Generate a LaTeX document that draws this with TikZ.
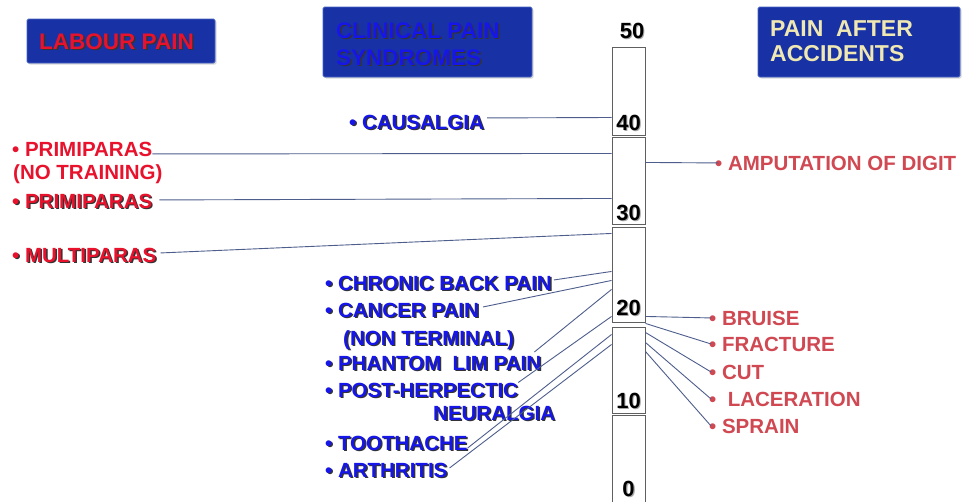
\documentclass[tikz,border=0pt]{standalone}
\usepackage{fontspec}
\setmainfont{Liberation Sans}
\usetikzlibrary{shadows}
\definecolor{hdrblue}{RGB}{24,50,165}
\definecolor{hdredge}{RGB}{70,100,195}
\definecolor{labred}{RGB}{232,18,45}
\definecolor{clinblue}{RGB}{22,22,232}
\definecolor{accred}{RGB}{208,72,82}
\definecolor{cream}{RGB}{240,232,178}
\definecolor{connc}{RGB}{78,94,140}
\definecolor{scalec}{RGB}{95,95,95}
\newcommand\shd[2]{\rlap{\kern1.4pt\smash{\raisebox{-1.4pt}{\color{black!80}#2}}}{\color{#1}#2}}
\newcommand\nsh[1]{\rlap{\kern1.2pt\smash{\raisebox{-1.2pt}{\color{black!35}#1}}}{\color{black}#1}}
\begin{document}
\begin{tikzpicture}[x=1pt,y=-1pt,
  lbl/.style={inner sep=0pt, anchor=base west, font=\fontsize{20.5}{24}\selectfont\bfseries},
  hlbl/.style={inner sep=0pt, anchor=base west, font=\fontsize{22.5}{26}\selectfont\bfseries},
  hdrbox/.style={draw=hdredge, line width=0.8pt, fill=hdrblue, rounded corners=1.5pt, inner sep=0pt,
     drop shadow={opacity=0.3, shadow xshift=1.5pt, shadow yshift=-1.5pt}},
  scalebox/.style={draw=scalec, line width=1pt, fill=white, inner sep=0pt, minimum width=33pt},
  num/.style={inner sep=0pt, anchor=base, font=\fontsize{22}{24}\selectfont\bfseries},
  conn/.style={draw=connc, line width=0.9pt}]
\useasboundingbox (0,0) rectangle (964,501);
\fill[white] (0,0) rectangle (964,501);
% header boxes
\node[hdrbox, minimum width=188pt, minimum height=44pt] (hlab) at (121,41) {};
\node[hdrbox, minimum width=209pt, minimum height=70pt] (hcli) at (427.5,42) {};
\node[hdrbox, minimum width=202pt, minimum height=70pt] (hacc) at (859,42) {};
\node[hlbl] (tlab) at (39,49) {\shd{labred}{LABOUR PAIN}};
\node[hlbl] (tcl1) at (336,38) {\shd{clinblue}{CLINICAL PAIN}};
\node[hlbl] (tcl2) at (336,65) {\shd{clinblue}{SYNDROMES}};
\node[hlbl, font=\fontsize{23}{26}\selectfont\bfseries] (tac1) at (770,36) {\color{cream}PAIN\ \ AFTER};
\node[hlbl, font=\fontsize{23}{26}\selectfont\bfseries] (tac2) at (770,61) {\color{cream}ACCIDENTS};
% scale
\node[scalebox, minimum height=88pt] (s40) at (628.5,91.5) {};
\node[scalebox, minimum height=87.3pt] (s30) at (628.5,181.3) {};
\node[scalebox, minimum height=95.3pt] (s20) at (628.5,275.3) {};
\node[scalebox, minimum height=86pt] (s10) at (628.5,370) {};
\node[scalebox, minimum height=94.3pt] (s0) at (628.5,462.8) {};
\node[num] (n50) at (632,38.3) {\nsh{50}};
\node[num] (n40) at (628.5,130) {\nsh{40}};
\node[num] (n30) at (628.5,220) {\nsh{30}};
\node[num] (n20) at (628.5,315) {\nsh{20}};
\node[num] (n10) at (628.5,408) {\nsh{10}};
\node[num] (n0) at (628.5,496.5) {\nsh{0}};
% labour pain
\node[lbl] (p1) at (12,156) {\color{labred}• PRIMIPARAS};
\node[lbl] (p1b) at (13,179) {\color{labred}(NO TRAINING)};
\node[lbl] (p2) at (12,208) {\shd{labred}{• PRIMIPARAS}};
\node[lbl] (mu) at (12,262) {\shd{labred}{• MULTIPARAS}};
% clinical
\node[lbl] (ca) at (349,129) {\shd{clinblue}{• CAUSALGIA}};
\node[lbl] (cb) at (325,290) {\shd{clinblue}{• CHRONIC BACK PAIN}};
\node[lbl] (cp) at (325,317) {\shd{clinblue}{• CANCER PAIN}};
\node[lbl] (cpn) at (343,345) {\shd{clinblue}{(NON TERMINAL)}};
\node[lbl] (pl) at (325,370) {\shd{clinblue}{• PHANTOM\ \ LIM PAIN}};
\node[lbl] (ph) at (325,397) {\shd{clinblue}{• POST-HERPECTIC}};
\node[lbl] (ne) at (433,420) {\shd{clinblue}{NEURALGIA}};
\node[lbl] (to) at (325,450) {\shd{clinblue}{• TOOTHACHE}};
\node[lbl] (ar) at (325,477) {\shd{clinblue}{• ARTHRITIS}};
% accidents
\node[lbl] (am) at (715,170) {\color{accred}• AMPUTATION OF DIGIT};
\node[lbl] (br) at (709,325) {\color{accred}• BRUISE};
\node[lbl] (fr) at (709,351) {\color{accred}• FRACTURE};
\node[lbl] (cu) at (709,379) {\color{accred}• CUT};
\node[lbl] (la) at (709,406) {\color{accred}•\ \ LACERATION};
\node[lbl] (sp) at (709,433) {\color{accred}• SPRAIN};
% connectors
\draw[conn] ([xshift=3pt,yshift=4pt]ca.east) -- ([yshift=-70.5pt]s40.north west);
\draw[conn] ([yshift=-5pt]p1.east) -- ([yshift=-16.3pt]s30.north west);
\draw[conn] ([xshift=7pt,yshift=1pt]p2.east) -- ([yshift=-61.3pt]s30.north west);
\draw[conn] ([xshift=4pt,yshift=2pt]mu.east) -- ([yshift=-6.3pt]s20.north west);
\draw[conn] ([xshift=2pt,yshift=3pt]cb.east) -- ([yshift=-44.3pt]s20.north west);
\draw[conn] ([xshift=4pt,yshift=3pt]cp.east) -- ([yshift=-53.3pt]s20.north west);
\draw[conn] ([xshift=-7pt,yshift=3.5pt]pl.north east) -- ([yshift=-62.3pt]s20.north west);
\draw[conn] (ph.north east) -- ([yshift=-89.3pt]s20.north west);
\draw[conn] ([yshift=-5pt]to.east) -- ([yshift=-8pt]s10.north west);
\draw[conn] ([xshift=2pt,yshift=2pt]ar.east) -- ([yshift=-18pt]s10.north west);
\draw[conn] ([yshift=-25.3pt]s30.north east) -- ([xshift=3pt]am.west);
\draw[conn] ([yshift=-89.3pt]s20.north east) -- ([xshift=2pt]br.west);
\draw[conn] (s20.south east) -- ([xshift=2pt]fr.west);
\draw[conn] ([yshift=-6pt]s10.north east) -- ([xshift=2pt]cu.west);
\draw[conn] ([yshift=-16pt]s10.north east) -- ([xshift=2pt]la.west);
\draw[conn] ([yshift=-25pt]s10.north east) -- ([xshift=2pt]sp.west);
\end{tikzpicture}
\end{document}
